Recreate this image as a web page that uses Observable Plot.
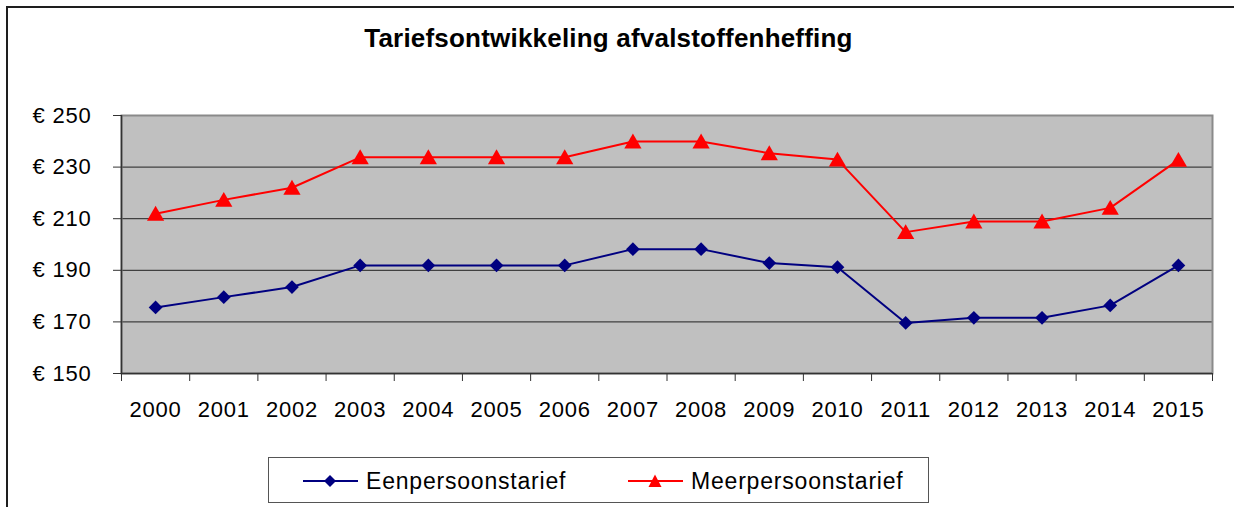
<!DOCTYPE html>
<html>
<head>
<meta charset="utf-8">
<script src="https://cdn.jsdelivr.net/npm/d3@7"></script>
<script src="https://cdn.jsdelivr.net/npm/@observablehq/plot@0.6"></script>
<style>
  html, body { margin: 0; padding: 0; background: #fff; width: 1234px; height: 507px; overflow: hidden; }
  body { position: relative; font-family: "Liberation Sans", Arial, sans-serif; }
  #frame { position: absolute; left: 6px; top: 6px; width: 1400px; height: 700px; border: 2px solid #1e1e1e; }
  #title { position: absolute; left: 0; top: 25px; width: 1217px; text-align: center; font-size: 26px; font-weight: bold; line-height: 1; letter-spacing: 0.2px; color: #000; }
  #chart { position: absolute; left: 0; top: 90px; }
  #legend { position: absolute; left: 268px; top: 457px; width: 661px; height: 46px; border: 1.5px solid #555; box-sizing: border-box; }
  .item { position: absolute; top: 0; height: 46px; display: flex; align-items: center; font-size: 23px; letter-spacing: 0.8px; color: #000; }
  .item svg { margin-right: 8px; }
</style>
</head>
<body>
<div id="frame"></div>
<div id="title">Tariefsontwikkeling afvalstoffenheffing</div>
<div id="chart"></div>
<div id="legend"></div>
<script>
const years = [2000, 2001, 2002, 2003, 2004, 2005, 2006, 2007, 2008, 2009, 2010, 2011, 2012, 2013, 2014, 2015];
const eenpersoon = [175.6, 179.6, 183.5, 191.9, 191.9, 191.9, 191.9, 198.2, 198.2, 192.8, 191.2, 169.6, 171.6, 171.6, 176.4, 191.9];
const meerpersoon = [211.9, 217.3, 222.0, 233.8, 233.8, 233.8, 233.8, 239.9, 239.9, 235.4, 232.9, 204.8, 208.9, 208.9, 214.2, 232.8];
const seriesNames = ["Eenpersoonstarief", "Meerpersoonstarief"];
const seriesColors = ["#000080", "#ff0000"];
const yTicks = [150, 170, 190, 210, 230, 250];
const gridValues = [170, 190, 210, 230];

const rows = [];
years.forEach((y, i) => {
  rows.push({year: y, value: eenpersoon[i], series: seriesNames[0]});
  rows.push({year: y, value: meerpersoon[i], series: seriesNames[1]});
});
const een = rows.filter(d => d.series === seriesNames[0]);
const meer = rows.filter(d => d.series === seriesNames[1]);
const boundaries = years.map(y => y - 0.5).concat([years[years.length - 1] + 0.5]);

const chart = Plot.plot({
  width: 1234,
  height: 350,
  marginTop: 25,
  marginBottom: 67,
  marginLeft: 121,
  marginRight: 22,
  style: {fontFamily: '"Liberation Sans", Arial, sans-serif', fontSize: "22px", letterSpacing: "0.8px", color: "#000", background: "transparent"},
  x: {type: "linear", domain: [years[0] - 0.5, years[years.length - 1] + 0.5], label: null},
  y: {domain: [yTicks[0], yTicks[yTicks.length - 1]], label: null},
  marks: [
    Plot.frame({fill: "#c0c0c0", stroke: "none"}),
    Plot.ruleY(gridValues, {stroke: "#404040", strokeWidth: 1.2}),
    Plot.frame({stroke: "#8a8a8a", strokeWidth: 2}),
    Plot.ruleX([boundaries[0]], {stroke: "#333", strokeWidth: 1.5}),
    Plot.ruleY([yTicks[0]], {stroke: "#333", strokeWidth: 1.5}),
    Plot.axisY({ticks: yTicks, tickSize: 8, tickPadding: 22, tickFormat: d => "€ " + d, stroke: "#333", fontSize: 22, label: null}),
    Plot.axisX({ticks: boundaries, tickSize: 8, tickFormat: () => "", stroke: "#333", label: null}),
    Plot.axisX({ticks: years, tickSize: 0, tickPadding: 28, tickFormat: d => String(d), fontSize: 22, label: null}),
    Plot.line(een, {x: "year", y: "value", stroke: seriesColors[0], strokeWidth: 2}),
    Plot.line(meer, {x: "year", y: "value", stroke: seriesColors[1], strokeWidth: 2}),
    Plot.dot(een, {x: "year", y: "value", symbol: "diamond2", r: 6.2, fill: seriesColors[0], stroke: "none"}),
    Plot.dot(meer, {x: "year", y: "value", symbol: "triangle", r: 6.4, fill: seriesColors[1], stroke: "none", dy: 2})
  ]
});
document.getElementById("chart").appendChild(chart);

// Legend
const legend = document.getElementById("legend");
const legendDefs = [
  {name: seriesNames[0], color: seriesColors[0], left: 34, shape: "diamond"},
  {name: seriesNames[1], color: seriesColors[1], left: 359, shape: "triangle"}
];
legendDefs.forEach(def => {
  const item = document.createElement("div");
  item.className = "item";
  item.style.left = def.left + "px";
  const marker = def.shape === "diamond"
    ? `<path d="M27,17 L33,23 L27,29 L21,23 Z" fill="${def.color}"/>`
    : `<path d="M27,16.5 L33.5,29 L20.5,29 Z" fill="${def.color}"/>`;
  item.innerHTML = `<svg width="55" height="46" viewBox="0 0 55 46"><line x1="0" x2="55" y1="23" y2="23" stroke="${def.color}" stroke-width="2"/>${marker}</svg><span>${def.name}</span>`;
  legend.appendChild(item);
});
</script>
</body>
</html>
